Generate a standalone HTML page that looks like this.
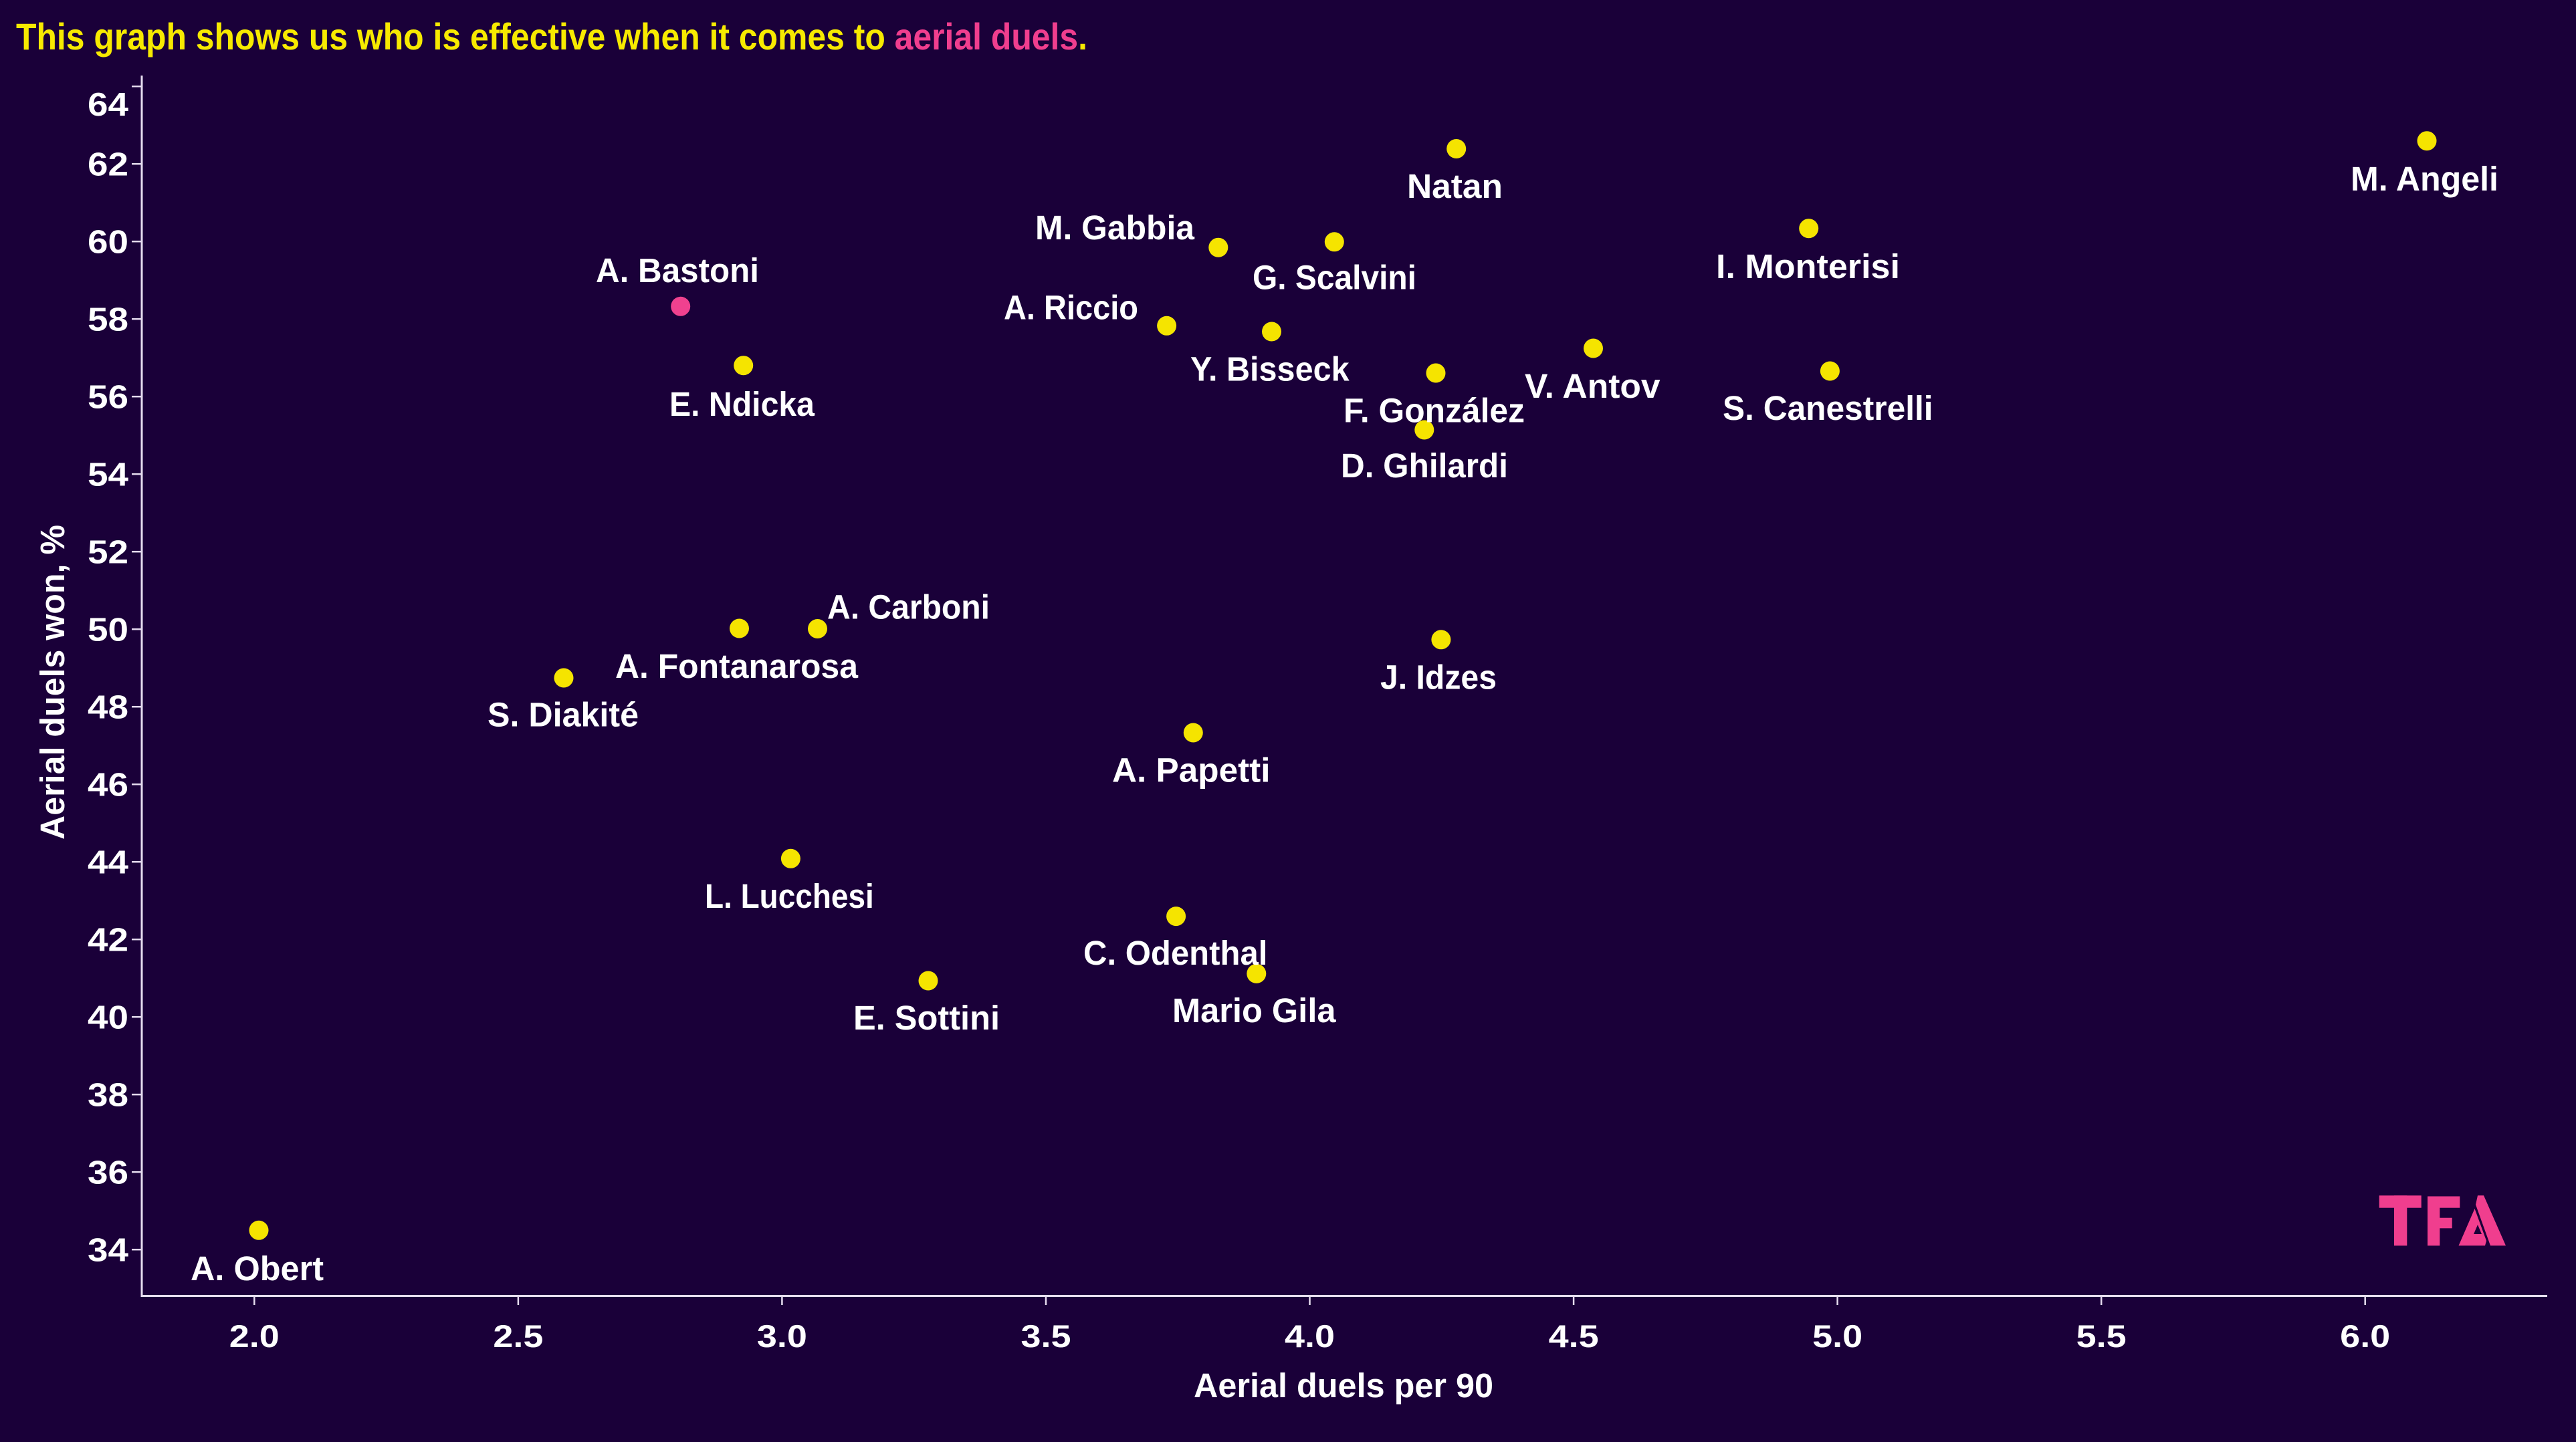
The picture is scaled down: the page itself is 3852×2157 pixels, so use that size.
<!DOCTYPE html>
<html>
<head>
<meta charset="utf-8">
<style>
html,body{margin:0;padding:0;background:#1a0039;}
svg{display:block;}
text{font-family:"Liberation Sans","DejaVu Sans",sans-serif;font-weight:700;}
</style>
</head>
<body>
<svg width="3852" height="2157" viewBox="0 0 3852 2157" xmlns="http://www.w3.org/2000/svg">
<rect x="0" y="0" width="3852" height="2157" fill="#1a0039"/>

<!-- Title -->
<text x="24" y="74" font-size="56" fill="#f7ea00" textLength="1602" lengthAdjust="spacingAndGlyphs">This graph shows us who is effective when it comes to <tspan fill="#f03e8e">aerial duels</tspan>.</text>

<!-- Axes -->
<line x1="212" y1="113" x2="212" y2="1940" stroke="#e6dcef" stroke-width="3"/>
<line x1="210.5" y1="1938.5" x2="3809" y2="1938.5" stroke="#e6dcef" stroke-width="3"/>

<!-- Y ticks -->
<g stroke="#e6dcef" stroke-width="2.5">
<line x1="197" y1="1869.2" x2="212" y2="1869.2"/>
<line x1="197" y1="1753.2" x2="212" y2="1753.2"/>
<line x1="197" y1="1637.2" x2="212" y2="1637.2"/>
<line x1="197" y1="1521.2" x2="212" y2="1521.2"/>
<line x1="197" y1="1405.2" x2="212" y2="1405.2"/>
<line x1="197" y1="1289.2" x2="212" y2="1289.2"/>
<line x1="197" y1="1173.2" x2="212" y2="1173.2"/>
<line x1="197" y1="1057.2" x2="212" y2="1057.2"/>
<line x1="197" y1="941.2" x2="212" y2="941.2"/>
<line x1="197" y1="825.2" x2="212" y2="825.2"/>
<line x1="197" y1="709.2" x2="212" y2="709.2"/>
<line x1="197" y1="593.2" x2="212" y2="593.2"/>
<line x1="197" y1="477.2" x2="212" y2="477.2"/>
<line x1="197" y1="361.2" x2="212" y2="361.2"/>
<line x1="197" y1="245.2" x2="212" y2="245.2"/>
<line x1="197" y1="129.2" x2="212" y2="129.2"/>
</g>
<g fill="#ffffff" font-size="49" text-anchor="end">
<text x="192" y="1886.7" textLength="61" lengthAdjust="spacingAndGlyphs">34</text>
<text x="192" y="1770.7" textLength="61" lengthAdjust="spacingAndGlyphs">36</text>
<text x="192" y="1654.7" textLength="61" lengthAdjust="spacingAndGlyphs">38</text>
<text x="192" y="1538.7" textLength="61" lengthAdjust="spacingAndGlyphs">40</text>
<text x="192" y="1422.7" textLength="61" lengthAdjust="spacingAndGlyphs">42</text>
<text x="192" y="1306.7" textLength="61" lengthAdjust="spacingAndGlyphs">44</text>
<text x="192" y="1190.7" textLength="61" lengthAdjust="spacingAndGlyphs">46</text>
<text x="192" y="1074.7" textLength="61" lengthAdjust="spacingAndGlyphs">48</text>
<text x="192" y="958.7" textLength="61" lengthAdjust="spacingAndGlyphs">50</text>
<text x="192" y="842.7" textLength="61" lengthAdjust="spacingAndGlyphs">52</text>
<text x="192" y="726.7" textLength="61" lengthAdjust="spacingAndGlyphs">54</text>
<text x="192" y="610.7" textLength="61" lengthAdjust="spacingAndGlyphs">56</text>
<text x="192" y="494.7" textLength="61" lengthAdjust="spacingAndGlyphs">58</text>
<text x="192" y="378.7" textLength="61" lengthAdjust="spacingAndGlyphs">60</text>
<text x="192" y="262.7" textLength="61" lengthAdjust="spacingAndGlyphs">62</text>
<text x="192" y="173" textLength="61" lengthAdjust="spacingAndGlyphs">64</text>
</g>

<!-- X ticks -->
<g stroke="#e6dcef" stroke-width="2.5">
<line x1="380.3" y1="1938.5" x2="380.3" y2="1952"/>
<line x1="774.9" y1="1938.5" x2="774.9" y2="1952"/>
<line x1="1169.4" y1="1938.5" x2="1169.4" y2="1952"/>
<line x1="1564" y1="1938.5" x2="1564" y2="1952"/>
<line x1="1958.5" y1="1938.5" x2="1958.5" y2="1952"/>
<line x1="2353.1" y1="1938.5" x2="2353.1" y2="1952"/>
<line x1="2747.6" y1="1938.5" x2="2747.6" y2="1952"/>
<line x1="3142.2" y1="1938.5" x2="3142.2" y2="1952"/>
<line x1="3536.7" y1="1938.5" x2="3536.7" y2="1952"/>
</g>
<g fill="#ffffff" font-size="47">
<text x="342.8" y="2015" textLength="75" lengthAdjust="spacingAndGlyphs">2.0</text>
<text x="737.4" y="2015" textLength="75" lengthAdjust="spacingAndGlyphs">2.5</text>
<text x="1131.9" y="2015" textLength="75" lengthAdjust="spacingAndGlyphs">3.0</text>
<text x="1526.5" y="2015" textLength="75" lengthAdjust="spacingAndGlyphs">3.5</text>
<text x="1921" y="2015" textLength="75" lengthAdjust="spacingAndGlyphs">4.0</text>
<text x="2315.6" y="2015" textLength="75" lengthAdjust="spacingAndGlyphs">4.5</text>
<text x="2710.1" y="2015" textLength="75" lengthAdjust="spacingAndGlyphs">5.0</text>
<text x="3104.7" y="2015" textLength="75" lengthAdjust="spacingAndGlyphs">5.5</text>
<text x="3499.2" y="2015" textLength="75" lengthAdjust="spacingAndGlyphs">6.0</text>
</g>

<!-- Axis titles -->
<text x="1785" y="2090" font-size="51" fill="#ffffff" textLength="448" lengthAdjust="spacingAndGlyphs">Aerial duels per 90</text>
<text transform="translate(96,1256) rotate(-90)" x="0" y="0" font-size="51" fill="#ffffff" textLength="471" lengthAdjust="spacingAndGlyphs">Aerial duels won, %</text>

<!-- Points -->
<g fill="#f5e400">
<circle cx="3629" cy="210.7" r="14.5"/>
<circle cx="2177.7" cy="222.5" r="14.5"/>
<circle cx="2704.7" cy="341.7" r="14.5"/>
<circle cx="1821.8" cy="370.2" r="14.5"/>
<circle cx="1995.3" cy="361.8" r="14.5"/>
<circle cx="1744.6" cy="487.3" r="14.5"/>
<circle cx="1901.5" cy="496" r="14.5"/>
<circle cx="1111.7" cy="546.7" r="14.5"/>
<circle cx="2147" cy="558" r="14.5"/>
<circle cx="2382.5" cy="521" r="14.5"/>
<circle cx="2736.4" cy="555" r="14.5"/>
<circle cx="2129.8" cy="643" r="14.5"/>
<circle cx="1222.5" cy="940.5" r="14.5"/>
<circle cx="1105.5" cy="940" r="14.5"/>
<circle cx="843" cy="1014" r="14.5"/>
<circle cx="2154.9" cy="956.8" r="14.5"/>
<circle cx="1784.3" cy="1096" r="14.5"/>
<circle cx="1182.4" cy="1284.3" r="14.5"/>
<circle cx="1758.6" cy="1370.6" r="14.5"/>
<circle cx="1878.8" cy="1456.4" r="14.5"/>
<circle cx="1388" cy="1467" r="14.5"/>
<circle cx="387" cy="1840.3" r="14.5"/>
</g>
<circle cx="1017.7" cy="458.3" r="14.5" fill="#f0418f"/>

<!-- Labels -->
<g fill="#ffffff" font-size="51">
<text x="3515" y="285" textLength="221" lengthAdjust="spacingAndGlyphs">M. Angeli</text>
<text x="2104" y="296" textLength="143" lengthAdjust="spacingAndGlyphs">Natan</text>
<text x="2566" y="416" textLength="275" lengthAdjust="spacingAndGlyphs">I. Monterisi</text>
<text x="1548" y="358" textLength="238" lengthAdjust="spacingAndGlyphs">M. Gabbia</text>
<text x="1873" y="432.6" textLength="245" lengthAdjust="spacingAndGlyphs">G. Scalvini</text>
<text x="891" y="422" textLength="244" lengthAdjust="spacingAndGlyphs">A. Bastoni</text>
<text x="1501" y="477.7" textLength="201" lengthAdjust="spacingAndGlyphs">A. Riccio</text>
<text x="1780" y="569.6" textLength="237.6" lengthAdjust="spacingAndGlyphs">Y. Bisseck</text>
<text x="1001" y="622" textLength="217" lengthAdjust="spacingAndGlyphs">E. Ndicka</text>
<text x="2009" y="631.6" textLength="271" lengthAdjust="spacingAndGlyphs">F. González</text>
<text x="2280" y="595" textLength="202.6" lengthAdjust="spacingAndGlyphs">V. Antov</text>
<text x="2576" y="628" textLength="314.6" lengthAdjust="spacingAndGlyphs">S. Canestrelli</text>
<text x="2005" y="714" textLength="250" lengthAdjust="spacingAndGlyphs">D. Ghilardi</text>
<text x="1237" y="925.4" textLength="243" lengthAdjust="spacingAndGlyphs">A. Carboni</text>
<text x="920" y="1014" textLength="363" lengthAdjust="spacingAndGlyphs">A. Fontanarosa</text>
<text x="729" y="1086.6" textLength="226" lengthAdjust="spacingAndGlyphs">S. Diakité</text>
<text x="2064" y="1030.5" textLength="174" lengthAdjust="spacingAndGlyphs">J. Idzes</text>
<text x="1663" y="1169.4" textLength="236.5" lengthAdjust="spacingAndGlyphs">A. Papetti</text>
<text x="1054" y="1358" textLength="252.8" lengthAdjust="spacingAndGlyphs">L. Lucchesi</text>
<text x="1620" y="1443" textLength="275.4" lengthAdjust="spacingAndGlyphs">C. Odenthal</text>
<text x="1753" y="1529" textLength="244.5" lengthAdjust="spacingAndGlyphs">Mario Gila</text>
<text x="1276" y="1539.8" textLength="219" lengthAdjust="spacingAndGlyphs">E. Sottini</text>
<text x="285" y="1915" textLength="199" lengthAdjust="spacingAndGlyphs">A. Obert</text>
</g>

<!-- TFA logo -->
<g fill="#f03e8e">
<rect x="3557.7" y="1788.3" width="63" height="18.4"/>
<rect x="3580" y="1788.3" width="19.3" height="75"/>
<rect x="3630" y="1789.5" width="18.3" height="73.8"/>
<rect x="3630" y="1789.5" width="48.3" height="17.2"/>
<rect x="3630" y="1821.7" width="36.7" height="15.6"/>
<!-- A: right stroke -->
<polygon points="3705,1788.3 3714,1788.3 3747,1863.3 3724,1863.3 3702,1802"/>
<!-- A: left piece -->
<polygon points="3700.5,1808 3718,1856 3716,1863.3 3676.5,1863.3"/>
</g>
<polygon points="3705,1832 3711,1846 3699,1846" fill="#1a0039"/>
<rect x="3676" y="1848" width="42" height="1" fill="#f03e8e" opacity="0"/>
</svg>
</body>
</html>
